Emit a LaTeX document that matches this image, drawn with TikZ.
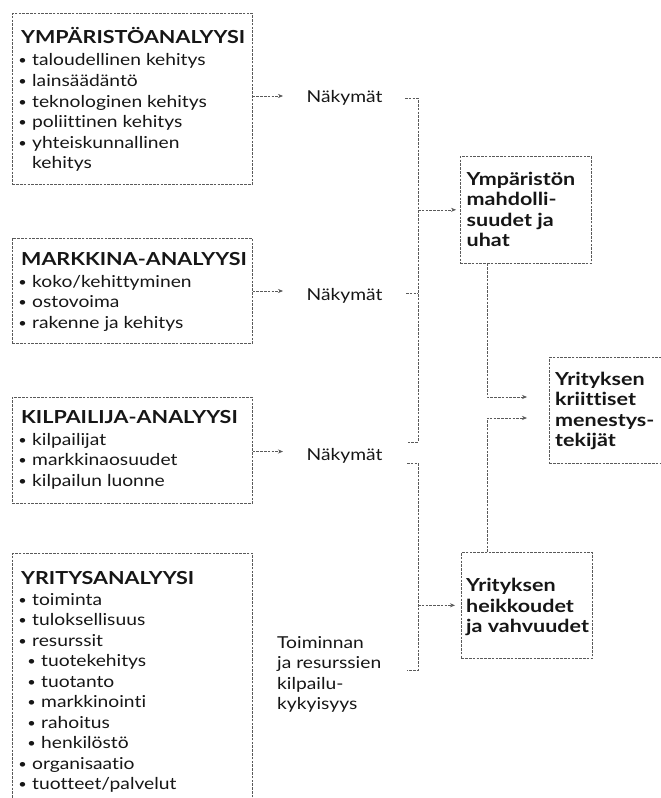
\documentclass[tikz,border=0pt]{standalone}
\usepackage{fontspec}
\setmainfont{Lato}[FakeStretch=1.17, Ligatures={NoCommon}]
\newfontfamily\headfont{Lato}[FakeStretch=1.2, Ligatures={NoCommon}]
\usetikzlibrary{arrows.meta}
\definecolor{ink}{HTML}{161616}
\definecolor{rule}{HTML}{5A5A5A}
\newcommand\bodysize{\fontsize{16.5}{20}\selectfont}
\newcommand\headsize{\headfont\fontsize{18}{20}\selectfont\bfseries}
\newcommand\dotsize{\fontsize{12.5}{20}\selectfont}
\begin{document}
\begin{tikzpicture}[x=1bp,y=-1bp,
  dashline/.style={draw=rule, line width=0.6bp, dash pattern=on 2.6bp off 1.2bp},
  arr/.style={dashline, -{Stealth[length=5bp,width=4bp]}},
  frame/.style={dashline, rectangle, inner sep=0pt, anchor=north west},
  head/.style={anchor=base west, inner sep=0pt, text=ink, font=\headsize},
  body/.style={anchor=base west, inner sep=0pt, text=ink, font=\bodysize},
  dot/.style={anchor=base, inner sep=0pt, text=ink, font=\dotsize, yshift=1bp}]
\useasboundingbox (0,0) rectangle (661,798);
\clip (0,0) rectangle (661,798);
\fill[white] (0,0) rectangle (661,798);

% ---------- analysis boxes on the left ----------
\node[frame, minimum width=240bp, minimum height=171bp] (b1) at (12,13) {};
\node[head] (b1h) at (21,43.5) {YMPÄRISTÖANALYYSI};
\foreach \n/\y/\t in {1/66/{taloudellinen kehitys}, 2/86.5/{lainsäädäntö},
    3/107/{teknologinen kehitys}, 4/127.5/{poliittinen kehitys},
    5/148/{yhteiskunnallinen}} {
  \node[dot] (b1d\n) at (22.5,\y) {•};
  \node[body] (b1i\n) at (32,\y) {\t};
}
\node[body] (b1i6) at (32,168.5) {kehitys};

\node[frame, minimum width=240bp, minimum height=105bp] (b2) at (12,238) {};
\node[head] (b2h) at (21,265) {MARKKINA-ANALYYSI};
\foreach \n/\y/\t in {1/287/{koko/kehittyminen}, 2/307.5/{ostovoima},
    3/328/{rakenne ja kehitys}} {
  \node[dot] (b2d\n) at (22.5,\y) {•};
  \node[body] (b2i\n) at (32,\y) {\t};
}

\node[frame, minimum width=240bp, minimum height=106bp] (b3) at (12,397) {};
\node[head] (b3h) at (21,423) {KILPAILIJA-ANALYYSI};
\foreach \n/\y/\t in {1/445/{kilpailijat}, 2/465.5/{markkinaosuudet},
    3/486/{kilpailun luonne}} {
  \node[dot] (b3d\n) at (22.5,\y) {•};
  \node[body] (b3i\n) at (32,\y) {\t};
}

\node[frame, minimum width=240bp, minimum height=270bp] (b4) at (12,553) {};
\node[head] (b4h) at (21,584.5) {YRITYSANALYYSI};
\foreach \n/\y/\t in {1/605/{toiminta}, 2/625.5/{tuloksellisuus},
    3/646/{resurssit}, 9/769/{organisaatio}, 10/789.5/{tuotteet/palvelut}} {
  \node[dot] (b4d\n) at (22.5,\y) {•};
  \node[body] (b4i\n) at (32,\y) {\t};
}
\foreach \n/\y/\t in {4/666.5/{tuotekehitys}, 5/687/{tuotanto},
    6/707.5/{markkinointi}, 7/728/{rahoitus}, 8/748.5/{henkilöstö}} {
  \node[dot] (b4d\n) at (31.5,\y) {•};
  \node[body] (b4i\n) at (41,\y) {\t};
}

% ---------- outlooks ----------
\node[body] (n1) at (306.5,102.5) {Näkymät};
\node[body] (n2) at (306.5,300) {Näkymät};
\node[body] (n3) at (306.5,460) {Näkymät};
\foreach \n/\y/\t in {1/648/{Toiminnan}, 2/668.5/{ja resurssien},
    3/689/{kilpailu-}, 4/709.5/{kykyisyys}} {
  \node[body] (k\n) at (277,\y) {\t};
}

% ---------- result boxes on the right ----------
\node[frame, minimum width=131bp, minimum height=107bp] (m) at (460,156) {};
\foreach \n/\y/\t in {1/185/{Ympäristön}, 2/205.5/{mahdolli-},
    3/226/{suudet ja}, 4/246.5/{uhat}} {
  \node[head] (m\n) at (466.5,\y) {\t};
}
\node[frame, minimum width=131bp, minimum height=106bp] (h) at (461,552) {};
\foreach \n/\y/\t in {1/591.5/{Yrityksen}, 2/612/{heikkoudet},
    3/632.5/{ja vahvuudet}} {
  \node[head] (h\n) at (466,\y) {\t};
}
\node[frame, minimum width=140bp, minimum height=106bp] (c) at (549,357) {};
\foreach \n/\y/\t in {1/385/{Yrityksen}, 2/405.5/{kriittiset},
    3/426/{menestys-}, 4/446.5/{tekijät}} {
  \node[head] (c\n) at (555,\y) {\t};
}

% ---------- connectors ----------
\coordinate (p1) at (283,96);
\coordinate (p2) at (283,291);
\coordinate (p3) at (283,451.5);
\draw[arr] (b1.east |- p1) -- (p1);
\draw[arr] (b2.east |- p2) -- (p2);
\draw[arr] (b3.east |- p3) -- (p3);

\coordinate (rail) at (418,0);
\coordinate (q1) at (405,98);
\coordinate (q2) at (406,293);
\coordinate (q3) at (407,442);
\coordinate (q4) at (407,463);
\coordinate (q5) at (407,670);
\draw[dashline] (q1) -- (q1 -| rail) -- (q3 -| rail) -- (q3);
\draw[dashline] (q2) -- (q2 -| rail);
\draw[dashline] (q4) -- (q4 -| rail) -- (q5 -| rail) -- (q5);
\draw[arr] (rail |- m.west) -- ([xshift=-4bp]m.west);
\draw[arr] (rail |- h.west) -- ([xshift=-6bp]h.west);

\coordinate (drop) at (487,0);
\coordinate (c1) at (527,397);
\coordinate (c2) at (527,418);
\draw[arr] (m.south -| drop) -- (drop |- c1) -- (c1);
\draw[arr] (h.north -| drop) -- (drop |- c2) -- (c2);
\end{tikzpicture}
\end{document}
